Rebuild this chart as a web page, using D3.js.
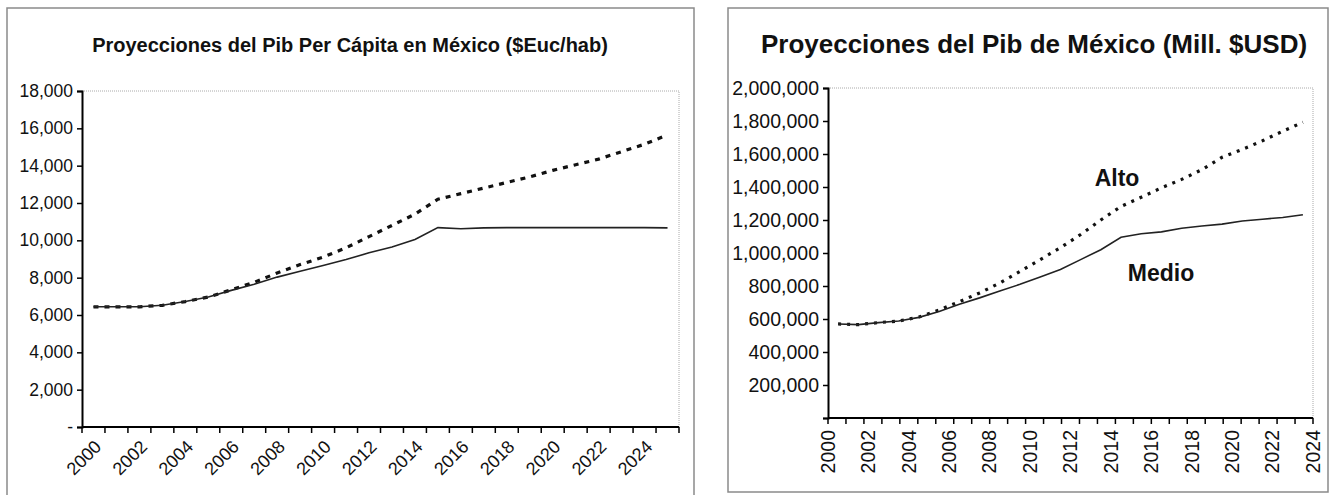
<!DOCTYPE html>
<html>
<head>
<meta charset="utf-8">
<script src="https://cdn.jsdelivr.net/npm/d3@7"></script>
<style>
  body { margin: 0; background: #fff; }
  text { font-family: "Liberation Sans", Arial, sans-serif; fill: #111; }
</style>
</head>
<body>
<div id="graph-container"></div>
<script>
// ---- data ----
// left chart: GDP per capita, 2000-2025
const yearsPerCap = d3.range(2000, 2026);
const perCapMedio = [6440, 6440, 6440, 6520, 6720, 6960, 7320, 7650, 8030, 8340,
  8650, 8970, 9330, 9640, 10050, 10680, 10620, 10670, 10680, 10680,
  10680, 10680, 10680, 10680, 10680, 10670];
const perCapAlto = [6440, 6440, 6440, 6520, 6720, 6960, 7350, 7750, 8250, 8700,
  9100, 9600, 10200, 10800, 11400, 12200, 12500, 12800, 13100, 13400,
  13750, 14050, 14350, 14750, 15150, 15650];
const perCapTicks = d3.range(0, 18001, 2000);

// right chart: GDP, 2000-2023 (Mill. USD)
const yearsPib = d3.range(2000, 2024);
const pibMedio = [570000, 566000, 578000, 588000, 610000, 645000, 690000, 728000, 770000, 810000,
  855000, 900000, 960000, 1020000, 1095000, 1117000, 1128000, 1150000, 1164000, 1175000,
  1194000, 1205000, 1215000, 1232000];
const pibAlto = [570000, 566000, 578000, 588000, 612000, 655000, 705000, 758000, 818000, 888000,
  960000, 1032000, 1112000, 1200000, 1282000, 1338000, 1395000, 1446000, 1505000, 1580000,
  1628000, 1680000, 1738000, 1792000];
const pibTicks = d3.range(0, 2000001, 200000);
const pibLabelYears = d3.range(2000, 2025, 2);

const W = 1334, H = 495;

let svg = d3.select("#graph-container")
  .append("svg")
  .attr("width", W)
  .attr("height", H);

// panel frames
svg.append("rect")
  .attr("x", 7).attr("y", 8).attr("width", 687).attr("height", 500)
  .attr("fill", "none").attr("stroke", "#8a8a8a").attr("stroke-width", 1.5);
svg.append("rect")
  .attr("x", 728).attr("y", 8).attr("width", 600).attr("height", 484)
  .attr("fill", "none").attr("stroke", "#8a8a8a").attr("stroke-width", 1.5);

// ================= left chart =================
let L = {x0: 82, x1: 679, y0: 91, y1: 427};

let xL = d3.scaleBand()
  .domain(yearsPerCap)
  .range([L.x0, L.x1]);
let yL = d3.scaleLinear()
  .domain([0, 18000])
  .range([L.y1, L.y0]);

svg.append("text")
  .attr("x", 350).attr("y", 52)
  .attr("text-anchor", "middle")
  .attr("font-size", 20).attr("font-weight", "bold")
  .text("Proyecciones del Pib Per Cápita en México ($Euc/hab)");

// plot area border (dotted, top + right)
svg.append("path")
  .attr("d", `M${L.x0},${L.y0}H${L.x1}V${L.y1}`)
  .attr("fill", "none").attr("stroke", "#aaa").attr("stroke-width", 1)
  .attr("stroke-dasharray", "1,1");

// y axis
let yAxisL = svg.append("g")
  .attr("transform", `translate(${L.x0},0)`)
  .call(d3.axisLeft(yL).tickValues(perCapTicks).tickSize(5).tickPadding(4)
    .tickFormat(d => d === 0 ? "-" : d3.format(",")(d)));
yAxisL.selectAll("text").attr("font-size", 17.5);
yAxisL.select(".domain").attr("stroke-width", 2);
yAxisL.selectAll(".tick line").attr("stroke-width", 1.5);

// x axis: ticks at category boundaries, labels every 2 years
let bounds = yearsPerCap.map(d => xL(d)).concat([L.x1]);
let xAxisL = svg.append("g")
  .attr("transform", `translate(0,${L.y1})`);
xAxisL.append("path")
  .attr("d", `M${L.x0},0H${L.x1}`)
  .attr("stroke", "#000").attr("stroke-width", 2);
xAxisL.selectAll("line.tk")
  .data(bounds)
  .enter().append("line")
    .attr("class", "tk")
    .attr("x1", d => d).attr("x2", d => d)
    .attr("y1", 0).attr("y2", 6)
    .attr("stroke", "#000").attr("stroke-width", 1.5);
xAxisL.selectAll("text")
  .data(yearsPerCap.filter(d => d % 2 === 0))
  .enter().append("text")
    .attr("transform", d => `translate(${xL(d) + xL.bandwidth() / 2},12) rotate(-45)`)
    .attr("text-anchor", "end")
    .attr("dy", "0.7em")
    .attr("font-size", 18)
    .text(d => d);

let lineL = d3.line()
  .x((d, i) => xL(yearsPerCap[i]) + xL.bandwidth() / 2)
  .y(d => yL(d));

svg.append("path")
  .datum(perCapAlto)
  .attr("d", lineL)
  .attr("fill", "none").attr("stroke", "#111")
  .attr("stroke-width", 3.2).attr("stroke-dasharray", "5,6");
svg.append("path")
  .datum(perCapMedio)
  .attr("d", lineL)
  .attr("fill", "none").attr("stroke", "#222")
  .attr("stroke-width", 1.6);

// ================= right chart =================
let R = {x0: 828, x1: 1313, y0: 88, y1: 418};

// labels sit on the year boundaries, points in the middle of each year
let xR = d3.scaleLinear()
  .domain([2000, 2024])
  .range([R.x0, R.x1]);
let yR = d3.scaleLinear()
  .domain([0, 2000000])
  .range([R.y1, R.y0]);

svg.append("text")
  .attr("x", 1034).attr("y", 53)
  .attr("text-anchor", "middle")
  .attr("font-size", 26).attr("font-weight", "bold")
  .text("Proyecciones del Pib de México (Mill. $USD)");

svg.append("path")
  .attr("d", `M${R.x0},${R.y0}H${R.x1}V${R.y1}`)
  .attr("fill", "none").attr("stroke", "#aaa").attr("stroke-width", 1)
  .attr("stroke-dasharray", "1,1");

let yAxisR = svg.append("g")
  .attr("transform", `translate(${R.x0},0)`)
  .call(d3.axisLeft(yR).tickValues(pibTicks).tickSize(5).tickPadding(4)
    .tickFormat(d => d === 0 ? "" : d3.format(",")(d)));
yAxisR.selectAll("text").attr("font-size", 19.5);
yAxisR.select(".domain").attr("stroke-width", 2);
yAxisR.selectAll(".tick line").attr("stroke-width", 1.5);

// 28 tick marks along the bottom axis
let tickIdx = d3.scaleLinear().domain([0, 27]).range([R.x0, R.x1]);
let xAxisR = svg.append("g")
  .attr("transform", `translate(0,${R.y1})`);
xAxisR.append("path")
  .attr("d", `M${R.x0},0H${R.x1}`)
  .attr("stroke", "#000").attr("stroke-width", 2);
xAxisR.selectAll("line.tk")
  .data(d3.range(28))
  .enter().append("line")
    .attr("class", "tk")
    .attr("x1", d => tickIdx(d)).attr("x2", d => tickIdx(d))
    .attr("y1", 0).attr("y2", 6)
    .attr("stroke", "#000").attr("stroke-width", 1.5);
xAxisR.selectAll("text")
  .data(pibLabelYears)
  .enter().append("text")
    .attr("transform", d => `translate(${xR(d)},12) rotate(-90)`)
    .attr("text-anchor", "end")
    .attr("dy", "0.35em")
    .attr("font-size", 19.5)
    .text(d => d);

let lineR = d3.line()
  .x((d, i) => xR(yearsPib[i] + 0.5))
  .y(d => yR(d));

svg.append("path")
  .datum(pibAlto)
  .attr("d", lineR)
  .attr("fill", "none").attr("stroke", "#111")
  .attr("stroke-width", 3.2).attr("stroke-dasharray", "3,6");
svg.append("path")
  .datum(pibMedio)
  .attr("d", lineR)
  .attr("fill", "none").attr("stroke", "#222")
  .attr("stroke-width", 1.6);

// series labels
svg.append("text")
  .attr("x", 1117).attr("y", 186)
  .attr("text-anchor", "middle")
  .attr("font-size", 23).attr("font-weight", "bold")
  .text("Alto");
svg.append("text")
  .attr("x", 1161).attr("y", 281)
  .attr("text-anchor", "middle")
  .attr("font-size", 23).attr("font-weight", "bold")
  .text("Medio");
</script>
</body>
</html>
